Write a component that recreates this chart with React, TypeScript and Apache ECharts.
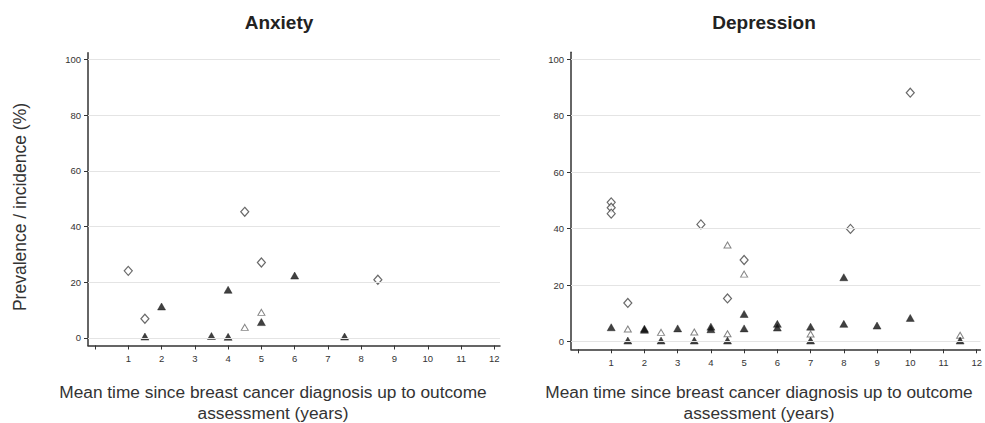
import React, { useEffect, useRef } from "react";
import * as echarts from "echarts";

// Anxiety panel: [years, %]
const anxietyDiamonds: number[][] = [[1, 24.1], [1.5, 6.9], [4.5, 45.3], [5, 27.1], [8.5, 20.9]];
const anxietyFilledTriangles: number[][] = [[1.5, 0.5], [2, 11.3], [3.5, 0.7], [4, 17.3], [4, 0.4], [5, 5.7], [6, 22.4], [7.5, 0.5]];
const anxietyOpenTriangles: number[][] = [[4.5, 3.8], [5, 9.2]];

// Depression panel: [years, %]
const depressionDiamonds: number[][] = [[1, 49.3], [1, 47.4], [1, 45.3], [1.5, 13.7], [3.7, 41.5], [4.5, 15.3], [5, 28.9], [8.2, 39.9], [10, 88.1]];
const depressionFilledTriangles: number[][] = [
  [1, 5.1], [1.5, 0.4], [2, 4.6], [2, 4.2], [2.5, 0.4], [3, 4.7], [3.5, 0.4], [4, 5.3], [4, 4.4],
  [4.5, 0.4], [5, 9.8], [5, 4.7], [6, 6.3], [6, 5.0], [7, 5.3], [7, 0.4], [8, 22.8], [8, 6.3],
  [9, 5.7], [10, 8.4], [11.5, 0.4],
];
const depressionOpenTriangles: number[][] = [[1.5, 4.5], [2.5, 3.3], [3.5, 3.4], [4.5, 34.2], [4.5, 2.8], [5, 23.9], [7, 2.7], [11.5, 2.3]];

const yTicks: number[] = [0, 20, 40, 60, 80, 100];
const xTicks: number[] = [0, 1, 2, 3, 4, 5, 6, 7, 8, 9, 10, 11, 12];
const xLabels: number[] = [1, 2, 3, 4, 5, 6, 7, 8, 9, 10, 11, 12];

const panelTitles: string[] = ["Anxiety", "Depression"];
const yTitle = "Prevalence / incidence (%)";
const xTitleLines: string[] = ["Mean time since breast cancer diagnosis up to outcome", "assessment (years)"];

const FONT = '"Liberation Sans", Arial, Helvetica, sans-serif';

export default function App() {
  const ref = useRef<HTMLDivElement>(null);
  useEffect(() => {
    if (!ref.current) return;
    const chart = echarts.init(ref.current, undefined, { renderer: "svg" });

    const axisLineStyle = { color: "#333", width: 1.5 };
    const makeX = (gridIndex: number, max: number) => ({
      type: "value",
      gridIndex,
      min: -0.21,
      max,
      axisLine: { show: true, onZero: false, lineStyle: axisLineStyle },
      axisTick: { show: true, length: 4, customValues: xTicks, lineStyle: { color: "#333", width: 1 } },
      axisLabel: { customValues: xLabels, fontSize: 9.5, color: "#333", fontFamily: FONT, margin: 8 },
      splitLine: { show: false },
    });
    const makeY = (gridIndex: number) => ({
      type: "value",
      gridIndex,
      min: -2.7,
      max: 102.4,
      axisLine: { show: true, onZero: false, lineStyle: axisLineStyle },
      axisTick: { show: true, length: 4, customValues: yTicks, lineStyle: { color: "#333", width: 1 } },
      axisLabel: { customValues: yTicks, fontSize: 9.5, color: "#333", fontFamily: FONT, margin: 7 },
      splitLine: { show: false },
    });

    const gridSeries = (idx: number) => ({
      type: "scatter",
      xAxisIndex: idx,
      yAxisIndex: idx,
      data: [],
      z: 1,
      silent: true,
      markLine: {
        silent: true,
        symbol: "none",
        label: { show: false },
        lineStyle: { color: "#e4e4e4", width: 1, type: "solid" },
        data: yTicks.map((v) => ({ yAxis: v })),
      },
    });

    const diamond = (idx: number, data: number[][]) => ({
      type: "scatter",
      xAxisIndex: idx,
      yAxisIndex: idx,
      data,
      z: 3,
      symbol: "diamond",
      symbolSize: [8, 9],
      itemStyle: { color: "#fff", borderColor: "#444", borderWidth: 1.2 },
    });
    const filledTri = (idx: number, data: number[][]) => ({
      type: "scatter",
      xAxisIndex: idx,
      yAxisIndex: idx,
      data,
      z: 4,
      symbol: "triangle",
      symbolSize: [8, 7],
      itemStyle: { color: "#111", borderColor: "#111", borderWidth: 0.5 },
    });
    const openTri = (idx: number, data: number[][]) => ({
      type: "scatter",
      xAxisIndex: idx,
      yAxisIndex: idx,
      data,
      z: 3,
      symbol: "triangle",
      symbolSize: [7, 6],
      itemStyle: { color: "#fff", borderColor: "#666", borderWidth: 1 },
    });

    const textEl = (x: number, y: number, text: string, fontSize: number, weight: string, fill: string, rotation = 0) => ({
      type: "text",
      x,
      y,
      rotation,
      style: {
        text,
        fontSize,
        fontWeight: weight,
        fontFamily: FONT,
        fill,
        align: "center",
        verticalAlign: "middle",
      },
    });

    chart.setOption({
      animation: false,
      backgroundColor: "#fff",
      grid: [
        { left: 88, top: 52.7, width: 412, height: 292.8 },
        { left: 571, top: 52.3, width: 414, height: 297 },
      ],
      xAxis: [makeX(0, 12.17), makeX(1, 12.11)],
      yAxis: [makeY(0), makeY(1)],
      series: [
        gridSeries(0),
        gridSeries(1),
        diamond(0, anxietyDiamonds),
        filledTri(0, anxietyFilledTriangles),
        openTri(0, anxietyOpenTriangles),
        diamond(1, depressionDiamonds),
        filledTri(1, depressionFilledTriangles),
        openTri(1, depressionOpenTriangles),
      ],
      graphic: [
        textEl(279, 22, panelTitles[0], 19, "bold", "#222"),
        textEl(764, 22, panelTitles[1], 19, "bold", "#222"),
        textEl(20, 207, yTitle, 17.5, "normal", "#333", Math.PI / 2),
        textEl(273, 391.5, xTitleLines[0], 17.3, "normal", "#333"),
        textEl(273, 412.5, xTitleLines[1], 17.3, "normal", "#333"),
        textEl(759, 391.5, xTitleLines[0], 17.3, "normal", "#333"),
        textEl(759, 412.5, xTitleLines[1], 17.3, "normal", "#333"),
      ],
    });
    return () => chart.dispose();
  }, []);
  return (
    <div
      ref={ref}
      style={{ position: "fixed", left: 0, top: 0, width: 985, height: 423, background: "#fff" }}
    />
  );
}
